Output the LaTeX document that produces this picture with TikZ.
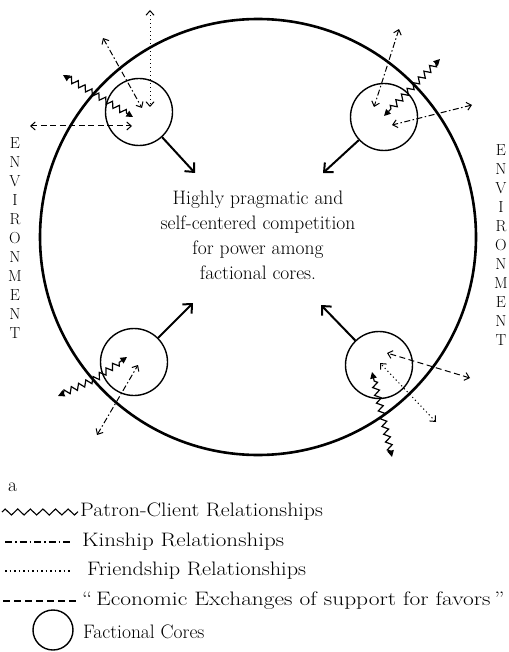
\documentclass[tikz,border=0pt]{standalone}
\usetikzlibrary{arrows.meta,decorations.pathmorphing}
\begin{document}
\begin{tikzpicture}[x=1pt,y=-1pt,
  envring/.style={draw,circle,line width=2.6pt,minimum size=436pt,inner sep=0pt},
  core/.style={draw,circle,line width=1.4pt,minimum size=67pt,inner sep=0pt},
  push/.style={line width=2pt,-{Straight Barb[length=7pt,width=13pt,line width=2pt]}},
  rel/.style={line width=1pt,{Straight Barb[length=4.5pt,width=8pt]}-{Straight Barb[length=4.5pt,width=8pt]}},
  friend/.style={rel,dash pattern=on 1.2pt off 2.8pt},
  kin/.style={rel,dash pattern=on 6pt off 2.5pt on 1.5pt off 2.5pt},
  econ/.style={rel,dash pattern=on 6pt off 3.5pt},
  patron/.style={line width=1.2pt,{Triangle[length=6.5pt,width=6.5pt]}-{Triangle[length=6.5pt,width=6.5pt]},decorate,decoration={zigzag,segment length=8pt,amplitude=3pt,pre length=6pt,post length=6pt}},
  lbl/.style={anchor=west,inner sep=0pt,font=\fontsize{19.5}{23}\selectfont},
  envtext/.style={align=center,inner sep=0pt,font=\fontsize{16}{19}\selectfont},
  ]
\useasboundingbox (0,0) rectangle (508,652);

% environment ring and cores
\node[envring] (env) at (258,237) {};
\node[core] (tl) at (139,112) {};
\node[core] (tr) at (384,117) {};
\node[core] (bl) at (134,362) {};
\node[core] (br) at (379,365) {};

% central text
\node[align=center,font=\fontsize{19.5}{25}\selectfont] (txt) at (258,235)
  {Highly pragmatic and\\self-centered competition\\for power among\\factional cores.};

% ENVIRONMENT labels
\node[envtext] (envL) at (15,238) {E\\N\\V\\I\\R\\O\\N\\M\\E\\N\\T};
\node[envtext] (envR) at (501,245) {E\\N\\V\\I\\R\\O\\N\\M\\E\\N\\T};

% thrusts toward the centre
\coordinate (tlT) at (195,173);
\coordinate (trT) at (323,173);
\coordinate (blT) at (193,303);
\coordinate (brT) at (321,305);
\draw[push] (tl) -- (tlT);
\draw[push] (tr) -- (trT);
\draw[push] (bl) -- (blT);
\draw[push] (br) -- (brT);

% top-left core
\coordinate (tlF1) at (150,10);  \coordinate (tlF2) at (150,107);
\coordinate (tlK1) at (103,38);  \coordinate (tlK2) at (142,108);
\coordinate (tlP1) at (63,75);   \coordinate (tlP2) at (133,117);
\coordinate (tlE1) at (30,126);  \coordinate (tlE2) at (132,126);
\draw[friend] (tlF1) -- (tlF2);
\draw[kin] (tlK1) -- (tlK2);
\draw[patron] (tlP1) -- (tlP2);
\draw[econ] (tlE1) -- (tlE2);

% top-right core
\coordinate (trK1) at (399,29);  \coordinate (trK2) at (374,107);
\coordinate (trP1) at (440,59);  \coordinate (trP2) at (384,116);
\coordinate (trQ1) at (472,105); \coordinate (trQ2) at (392,125);
\draw[kin] (trK1) -- (trK2);
\draw[patron] (trP1) -- (trP2);
\draw[kin] (trQ1) -- (trQ2);

% bottom-left core
\coordinate (blP1) at (58,396);  \coordinate (blPm) at (95,379); \coordinate (blP2) at (127,357);
\coordinate (blK1) at (97,435);  \coordinate (blK2) at (138,365);
\draw[patron] (blP1) -- (blPm) -- (blP2);
\draw[kin] (blK1) -- (blK2);

% bottom-right core
\coordinate (brE1) at (470,378); \coordinate (brE2) at (387,353);
\coordinate (brF1) at (436,422); \coordinate (brF2) at (380,363);
\coordinate (brP1) at (392,457); \coordinate (brPm) at (380,405); \coordinate (brP2) at (372,372);
\draw[econ] (brE1) -- (brE2);
\draw[friend] (brF1) -- (brF2);
\draw[patron] (brP1) -- (brPm) -- (brP2);

% legend
\node[lbl] (la) at (8,487) {a};
\coordinate (lw1) at (2,512);  \coordinate (lw2) at (78,512);
\draw[line width=1.1pt,decorate,decoration={zigzag,segment length=12.6pt,amplitude=3pt}] (lw1) -- (lw2);
\node[lbl] (lwt) at (80,512) {\scalebox{1.12}[1]{Patron-Client Relationships}};
\coordinate (lk1) at (5,542);  \coordinate (lk2) at (72,542);
\draw[line width=1.1pt,dash pattern=on 7pt off 3pt on 1.5pt off 3pt] (lk1) -- (lk2);
\node[lbl] (lkt) at (82,542) {\scalebox{1.18}[1]{Kinship Relationships}};
\coordinate (lf1) at (5,571);  \coordinate (lf2) at (72,571);
\draw[line width=1.1pt,dash pattern=on 1.5pt off 3pt] (lf1) -- (lf2);
\node[lbl] (lft) at (87,571) {\scalebox{1.14}[1]{Friendship Relationships}};
\coordinate (le1) at (3,601);  \coordinate (le2) at (76,601);
\draw[line width=1.1pt,dash pattern=on 7pt off 4pt] (le1) -- (le2);
\node[lbl] (let) at (82,601) {\scalebox{1.2}[1]{``\,Economic Exchanges of support for favors\,''}};
\node[draw,circle,line width=1.4pt,minimum size=40pt,inner sep=0pt] (lc) at (53,630) {};
\node[lbl] (lct) at (83,632) {Factional Cores};
\end{tikzpicture}
\end{document}
